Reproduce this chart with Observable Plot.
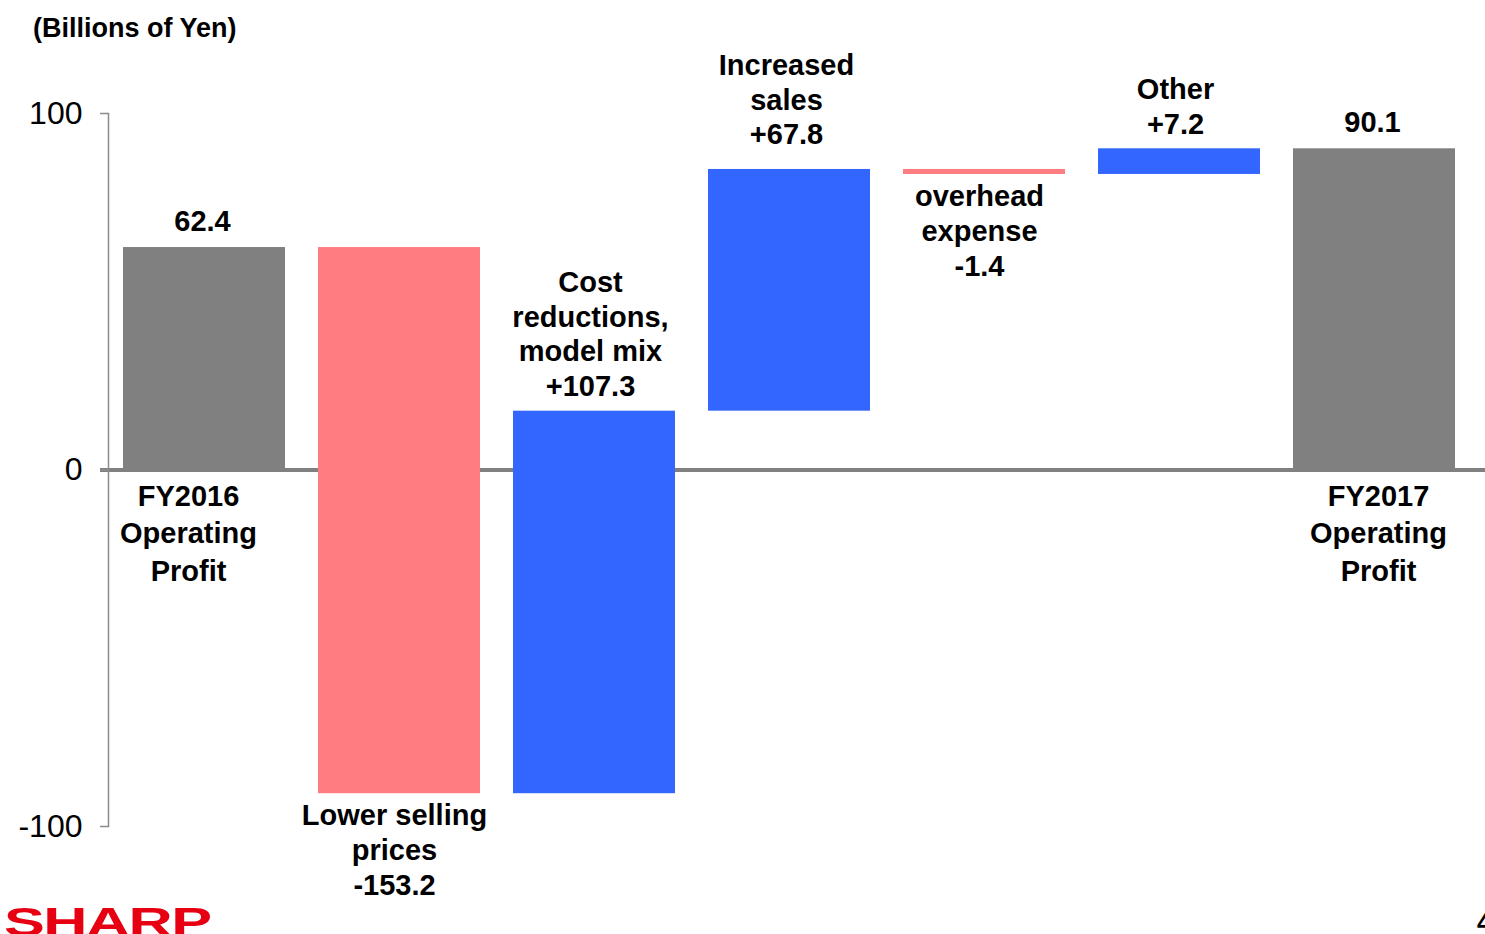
<!DOCTYPE html>
<html><head><meta charset="utf-8">
<script src="https://cdn.jsdelivr.net/npm/d3@7"></script>
<script src="https://cdn.jsdelivr.net/npm/@observablehq/plot@0.6"></script>
<style>
html,body{margin:0;padding:0;background:#fff;overflow:hidden;width:1485px;height:934px;}
#wrap{position:relative;width:1485px;height:934px;font-family:"Liberation Sans",Arial,sans-serif;overflow:hidden;}
#chart{position:absolute;left:0;top:0;}
#title{position:absolute;left:33px;top:12px;font-weight:bold;font-size:27px;line-height:32px;color:#000;}
#logo{position:absolute;left:4px;top:899px;font-weight:bold;font-size:40px;line-height:46px;color:#e60012;transform:scale(1.53,1);transform-origin:left top;letter-spacing:-1px;}
#page{position:absolute;left:1477px;top:906px;font-weight:bold;font-size:26px;line-height:32px;color:#000;}
</style></head><body>
<div id="wrap">
<div id="chart"></div>
<div id="title">(Billions of Yen)</div>
<div id="logo">SHARP</div>
<div id="page">4</div>
</div>
<script>
// ---- data ----
const categories = ["FY2016", "Lower selling prices", "Cost reductions, model mix", "Increased sales", "overhead expense", "Other", "FY2017"];
const names = ["FY2016\nOperating\nProfit", "Lower selling\nprices", "Cost\nreductions,\nmodel mix", "Increased\nsales", "overhead\nexpense", "Other", "FY2017\nOperating\nProfit"];
const values = [62.4, -153.2, 107.3, 67.8, -1.4, 7.2, 90.1];
const kinds = ["total", "delta", "delta", "delta", "delta", "delta", "total"];
const yTicks = [-100, 0, 100];

// ---- build waterfall rows ----
const colorOf = (k, v) => k === "total" ? "#808080" : (v < 0 ? "#ff7c80" : "#3366ff");
let run = 0;
const rows = categories.map((c, i) => {
  const v = values[i];
  const y1 = kinds[i] === "total" ? 0 : run;
  const y2 = kinds[i] === "total" ? v : run + v;
  run = y2;
  const fmt = kinds[i] === "total" ? v.toFixed(1) : (v > 0 ? "+" : "") + v.toFixed(1);
  return {cat: c, kind: kinds[i], v, y1, y2, top: Math.max(y1, y2), bottom: Math.min(y1, y2),
          fill: colorOf(kinds[i], v), name: names[i], fmt};
});

const totals = rows.filter(d => d.kind === "total");
const deltasUp = rows.filter(d => d.kind === "delta" && d.v > 0);
const deltasDown = rows.filter(d => d.kind === "delta" && d.v < 0);

const font = {fontFamily: "Liberation Sans, Arial, sans-serif", fontWeight: "bold", fontSize: 29, fill: "#000"};

const chart = Plot.plot({
  width: 1485,
  height: 934,
  marginTop: 113,
  marginBottom: 108,
  marginLeft: 108,
  marginRight: 14,
  style: {fontFamily: "Liberation Sans, Arial, sans-serif", color: "#000", background: "transparent", overflow: "visible"},
  x: {domain: categories, paddingInner: 0.167, paddingOuter: 0.075, axis: null},
  y: {domain: [-100, 100], axis: null},
  marks: [
    Plot.ruleY([0], {stroke: "#808080", strokeWidth: 4, insetLeft: -8, insetRight: -15}),
    Plot.barY(rows, {x: "cat", y1: "y1", y2: "y2", fill: "fill"}),
    Plot.frame({anchor: "left", stroke: "#8c8c8c", strokeWidth: 1.5}),
    Plot.axisY({ticks: yTicks, tickSize: 8, tickPadding: 18, fontSize: 32, stroke: "#8c8c8c", strokeWidth: 1.5, label: null, tickFormat: d => String(d)}),
    // value labels above totals
    Plot.text(totals, {x: "cat", y: "top", text: "fmt", lineAnchor: "bottom", dy: -17, dx: -2, ...font}),
    // names below totals
    Plot.text(totals, {x: "cat", y: 0, text: "name", lineAnchor: "top", lineHeight: 1.28, dy: 10,
      ...font, filter: d => d.cat === categories[0], dx: -16}),
    Plot.text(totals, {x: "cat", y: 0, text: "name", lineAnchor: "top", lineHeight: 1.28, dy: 10,
      ...font, filter: d => d.cat === categories[categories.length - 1], dx: 4}),
    // positive deltas: label above
    Plot.text(deltasUp, {x: "cat", y: "top", text: d => d.name + "\n" + d.fmt, lineAnchor: "bottom", lineHeight: 1.2,
      dy: -15, dx: -4, ...font, filter: d => d.cat !== "Increased sales"}),
    Plot.text(deltasUp, {x: "cat", y: "top", text: d => d.name + "\n" + d.fmt, lineAnchor: "bottom", lineHeight: 1.2,
      dy: -25, dx: -3, ...font, filter: d => d.cat === "Increased sales"}),
    // negative deltas: label below
    Plot.text(deltasDown, {x: "cat", y: "bottom", text: d => d.name + "\n" + d.fmt, lineAnchor: "top", lineHeight: 1.2,
      dy: 7, dx: -5, ...font})
  ]
});
document.getElementById("chart").appendChild(chart);
</script>
</body></html>
